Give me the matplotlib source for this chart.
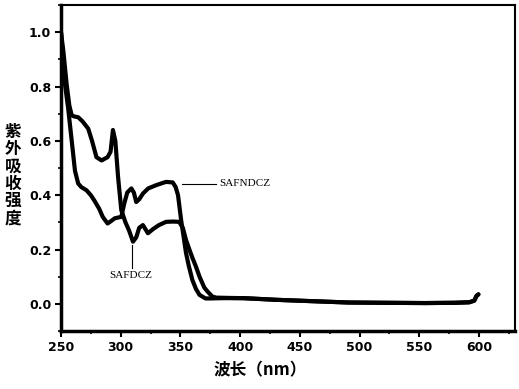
import numpy as np
import matplotlib
matplotlib.use("Agg")
import matplotlib.pyplot as plt

# SAFDCZ: high shoulder at ~260 nm, dip at ~310 nm, plateau ~0.30
wl_safdcz = [250, 252, 254.7, 257, 259, 261, 264.4, 268, 272.8, 276, 279.7, 284, 289, 291.5, 293.5,
             295.5, 297.8, 300.5, 304, 307, 310.3, 313, 315.5, 318.6, 322.8, 327, 332, 338,
             344, 349, 352, 354.7, 357.5, 360, 363, 366, 370, 372.8, 376.7, 380, 390, 403,
             430, 460, 490.8, 520, 554.7, 580, 592, 596, 598, 599.5]
ab_safdcz = [1.0, 0.93, 0.81, 0.73, 0.694, 0.69, 0.687, 0.672, 0.645, 0.6, 0.54, 0.528, 0.54, 0.56, 0.64,
             0.6, 0.467, 0.345, 0.3, 0.27, 0.229, 0.245, 0.28, 0.29, 0.26, 0.275, 0.29, 0.302,
             0.303, 0.302, 0.28, 0.235, 0.2, 0.17, 0.137, 0.1, 0.06, 0.045, 0.027, 0.023, 0.022, 0.021,
             0.015, 0.01, 0.005, 0.004, 0.003, 0.004, 0.006, 0.012, 0.03, 0.035]

# SAFNDCZ: steeper initial drop, peak ~309 nm, plateau ~0.45
wl_safndcz = [250, 251.5, 253.3, 256, 259, 261.7, 264.4, 267, 271.4, 275, 278, 282, 285, 289, 292,
              295, 298, 300.5, 303, 305.5, 308.9, 311, 313, 315.5, 318.6, 323, 329.7, 335,
              338, 343.6, 346, 348, 350.6, 354.7, 357, 360, 363, 366, 371, 376, 385, 403,
              430, 460, 490.8, 520, 554.7, 580, 592, 596, 598, 599.5]
ab_safndcz = [1.0, 0.92, 0.81, 0.72, 0.6, 0.49, 0.443, 0.43, 0.418, 0.4, 0.38, 0.35, 0.32, 0.296, 0.305,
              0.315, 0.318, 0.32, 0.37, 0.41, 0.425, 0.41, 0.375, 0.385, 0.406, 0.425, 0.437, 0.445,
              0.449, 0.447, 0.43, 0.4, 0.308, 0.187, 0.14, 0.088, 0.055, 0.033, 0.02, 0.02, 0.021, 0.021,
              0.015, 0.01, 0.005, 0.004, 0.003, 0.004, 0.006, 0.012, 0.03, 0.035]

x_ticks = [250, 300, 350, 400, 450, 500, 550, 600]
y_ticks = [0.0, 0.2, 0.4, 0.6, 0.8, 1.0]

plt.rcParams['font.family'] = ['DejaVu Sans']

fig = plt.figure(figsize=(5.19, 3.89), dpi=100)
ax = fig.add_axes([0.1175, 0.149, 0.8745, 0.838])

ax.plot(wl_safdcz, ab_safdcz, color='black', lw=3.0, solid_capstyle='round')
ax.plot(wl_safndcz, ab_safndcz, color='black', lw=3.0, solid_capstyle='round')

ax.set_xlim(250, 630)
ax.set_ylim(-0.1, 1.1)
ax.set_xticks(x_ticks)
ax.set_yticks(y_ticks)
ax.set_xticks(np.arange(275, 630, 50), minor=True)
ax.set_yticks(np.arange(-0.1, 1.1, 0.2), minor=True)
ax.set_xticklabels([str(v) for v in x_ticks], fontsize=9, fontweight='bold')
ax.set_yticklabels(['%.1f' % v for v in y_ticks], fontsize=9, fontweight='bold')
ax.tick_params(which='major', direction='out', length=4, width=1.5, pad=3)
ax.tick_params(which='minor', direction='out', length=2.5, width=1.2)
for s in ax.spines.values():
    s.set_linewidth(1.5)
ax.spines['left'].set_linewidth(2.5)
ax.spines['bottom'].set_linewidth(2.5)

# annotation leaders
ax.plot([351, 380], [0.443, 0.443], color='black', lw=0.8)
ax.text(382.5, 0.443, 'SAFNDCZ', family='Liberation Serif', fontsize=8,
        va='center', ha='left')
ax.plot([309.4, 309.4], [0.217, 0.132], color='black', lw=0.8)
ax.text(308, 0.106, 'SAFDCZ', family='Liberation Serif', fontsize=8,
        va='center', ha='center')

cjk = ['Noto Sans CJK SC', 'DejaVu Sans']
fig.text(13 / 519, 1 - 175 / 389, '\n'.join('紫外吸收强度'), family=cjk,
         fontsize=12, fontweight='bold', ha='center', va='center', linespacing=0.95)
fig.text(260 / 519, 1 - 370 / 389, '波长（nm）', family=cjk,
         fontsize=12, fontweight='bold', ha='center', va='center')

fig.savefig('out.png', dpi=100)
